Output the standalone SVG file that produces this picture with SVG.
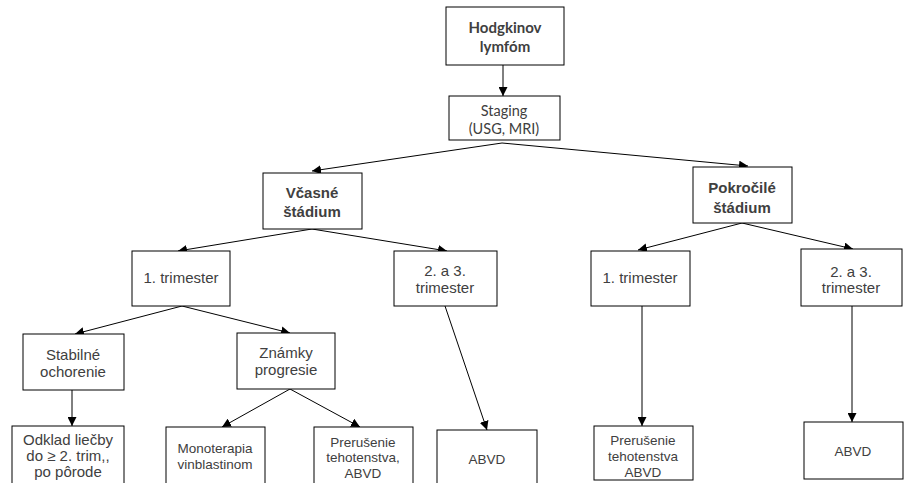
<svg xmlns="http://www.w3.org/2000/svg" width="907" height="483" viewBox="0 0 907 483">
<style>
.box{fill:#fff;stroke:#000;stroke-width:1}
.t{font-family:"Liberation Sans",Arial,sans-serif;font-size:15px;fill:#404040;text-anchor:middle}
.s{font-size:13.5px}
.b{font-weight:bold}
.c{font-family:Lato,"Open Sans",sans-serif;font-size:15px;fill:#404040;text-anchor:middle}
.e{stroke:#000;stroke-width:1;fill:none;marker-end:url(#ah)}
</style>
<defs>
<marker id="ah" viewBox="0 0 10 10" refX="10" refY="5" markerWidth="9" markerHeight="9" markerUnits="userSpaceOnUse" orient="auto">
<path d="M0,0 L10,5 L0,10 z" fill="#000"/>
</marker>
</defs>
<rect width="907" height="483" fill="#fff"/>
<g id="connectors">
<line class="e" x1="503" y1="65" x2="503" y2="96"/>
<line class="e" x1="502" y1="143" x2="312" y2="171"/>
<line class="e" x1="502" y1="143" x2="748" y2="166"/>
<line class="e" x1="312" y1="229" x2="178" y2="251"/>
<line class="e" x1="312" y1="229" x2="447" y2="251"/>
<line class="e" x1="742" y1="223" x2="638" y2="250"/>
<line class="e" x1="742" y1="223" x2="853" y2="249"/>
<line class="e" x1="182" y1="306" x2="75" y2="334"/>
<line class="e" x1="182" y1="306" x2="290" y2="333"/>
<line class="e" x1="72" y1="390" x2="72" y2="426"/>
<line class="e" x1="290" y1="389" x2="222" y2="427"/>
<line class="e" x1="290" y1="389" x2="360" y2="427"/>
<line class="e" x1="445" y1="306" x2="487" y2="430"/>
<line class="e" x1="642" y1="306" x2="642" y2="426"/>
<line class="e" x1="852" y1="306" x2="852" y2="422"/>
</g>
<g id="hodgkin"><rect class="box" x="446" y="7" width="118" height="58"/><text class="c b" x="505" y="33">Hodgkinov</text><text class="c b" x="505" y="52">lymfóm</text></g>
<g id="staging"><rect class="box" x="449" y="96" width="111" height="44"/><text class="c" x="504" y="116" style="font-size:14.5px">Staging</text><text class="c" x="504" y="134" style="font-size:14.5px">(USG, MRI)</text></g>
<g id="vcasne"><rect class="box" x="263" y="173" width="99" height="56"/><text class="t b" x="312" y="198">Včasné</text><text class="t b" x="312" y="217">štádium</text></g>
<g id="pokrocile"><rect class="box" x="693" y="167" width="99" height="56"/><text class="t b" x="742" y="193">Pokročilé</text><text class="t b" x="742" y="213">štádium</text></g>
<g id="t1l"><rect class="box" x="132" y="251" width="98" height="55"/><text class="t" x="181" y="283">1. trimester</text></g>
<g id="t23l"><rect class="box" x="394" y="251" width="103" height="55"/><text class="t" x="445" y="276">2. a 3.</text><text class="t" x="445" y="293">trimester</text></g>
<g id="t1r"><rect class="box" x="591" y="251" width="99" height="55"/><text class="t" x="640" y="283">1. trimester</text></g>
<g id="t23r"><rect class="box" x="801" y="249" width="101" height="57"/><text class="t" x="851" y="277">2. a 3.</text><text class="t" x="851" y="293">trimester</text></g>
<g id="stabilne"><rect class="box" x="23" y="334" width="101" height="56"/><text class="t" x="73" y="360">Stabilné</text><text class="t" x="73" y="377">ochorenie</text></g>
<g id="znamky"><rect class="box" x="237" y="333" width="98" height="56"/><text class="t" x="286" y="358">Známky</text><text class="t" x="286" y="375">progresie</text></g>
<g id="odklad"><rect class="box" x="12" y="426" width="112" height="70"/><text class="t" x="68" y="445">Odklad liečby</text><text class="t" x="68" y="461">do ≥ 2. trim,,</text><text class="t" x="68" y="477">po pôrode</text></g>
<g id="mono"><rect class="box" x="166" y="427" width="99" height="70"/><text class="t s" x="215" y="453">Monoterapia</text><text class="t s" x="215" y="469">vinblastinom</text></g>
<g id="prel"><rect class="box" x="314" y="427" width="99" height="70"/><text class="t s" x="363" y="447">Prerušenie</text><text class="t s" x="363" y="462">tehotenstva,</text><text class="t s" x="363" y="478">ABVD</text></g>
<g id="abvdl"><rect class="box" x="437" y="430" width="100" height="70"/><text class="t s" x="487" y="464">ABVD</text></g>
<g id="prer"><rect class="box" x="594" y="426" width="99" height="54"/><text class="t s" x="643" y="445">Prerušenie</text><text class="t s" x="643" y="461">tehotenstva</text><text class="t s" x="643" y="477">ABVD</text></g>
<g id="abvdr"><rect class="box" x="804" y="422" width="99" height="57"/><text class="t s" x="853" y="456">ABVD</text></g>
</svg>
